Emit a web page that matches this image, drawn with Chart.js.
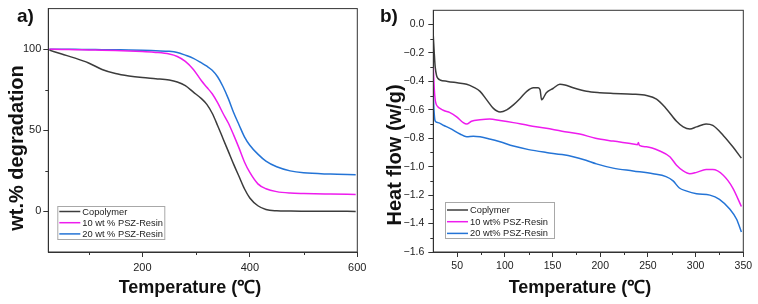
<!DOCTYPE html>
<html>
<head>
<meta charset="utf-8">
<script src="https://cdn.jsdelivr.net/npm/chart.js@4.4.0/dist/chart.umd.min.js"></script>
<style>
    html, body { margin: 0; padding: 0; background: #fff; }
    #wrap { position: relative; width: 758px; height: 304px; }
    canvas { position: absolute; top: 0; }
    #tga { left: 0; }
    #dsc { left: 379px; }
</style>
</head>
<body>
<div id="wrap">
    <canvas id="tga" width="379" height="304"></canvas>
    <canvas id="dsc" width="379" height="304"></canvas>
</div>
<script>
// ---- a) TGA data (read off the picture) ----
const tgaTemp = [27, 50, 75, 100, 125, 150, 175, 200, 225, 250, 265, 280, 295, 310, 320, 330, 340, 350, 360, 370, 380, 390, 400, 415, 430, 450, 475, 500, 550, 597];
const tgaCopolymer = [99.4, 97, 94.5, 91.5, 87.5, 85, 83.5, 82.5, 81.8, 81, 79.8, 77.5, 73.5, 69.5, 66, 60.5, 53, 45, 37, 29, 21.5, 14, 8.3, 3.5, 1.2, 0.4, 0.2, 0.1, 0.1, 0];
const tga10 = [100, 99.8, 99.7, 99.5, 99.4, 99.2, 98.9, 98.5, 98, 97, 95.5, 92.5, 87.5, 80.5, 76.5, 72.5, 67, 60.5, 54.5, 47, 39, 30.5, 24, 17, 14, 12.2, 11.3, 11, 10.7, 10.5];
const tga20 = [100, 100, 99.9, 99.8, 99.7, 99.6, 99.5, 99.3, 99, 98.7, 98, 96.3, 94.3, 91.5, 89.5, 87, 83, 77, 69.5, 60.8, 53.3, 46, 40.8, 35.3, 31, 27.5, 25, 23.8, 23, 22.6];
const tgaXTicks = [200, 400, 600];
const tgaXMinor = [100, 300, 500];
const tgaYTicks = [0, 50, 100];
const tgaYMinor = [25, 75];

// ---- b) DSC data ----
const dscTempCopolymer = [25, 26, 27, 28.5, 30, 32, 40, 50, 60, 67, 74, 81, 88, 95, 102, 109, 116, 123, 130, 135, 137, 138.5, 140, 143.5, 150.5, 157.7, 163, 171.6, 185.6, 199.5, 213.5, 234, 248.5, 259, 269, 280, 287, 294, 301, 311, 318, 329, 339, 348];
const dscCopolymer = [-0.08, -0.2, -0.3, -0.36, -0.38, -0.39, -0.4, -0.41, -0.42, -0.44, -0.47, -0.53, -0.59, -0.615, -0.6, -0.565, -0.52, -0.47, -0.445, -0.445, -0.46, -0.53, -0.52, -0.48, -0.45, -0.42, -0.425, -0.445, -0.47, -0.48, -0.485, -0.49, -0.5, -0.525, -0.59, -0.68, -0.72, -0.735, -0.72, -0.7, -0.71, -0.78, -0.86, -0.94];
const dscTemp10 = [25, 26, 27, 28, 30, 32, 36, 42.5, 49.5, 56.4, 60, 65, 74, 84, 95, 109, 125, 143.5, 160, 178.5, 195, 213.5, 234.5, 239, 240, 241, 248.5, 262.4, 273, 280, 287, 294, 301, 311, 318, 329, 339, 348];
const dsc10 = [-0.3, -0.45, -0.53, -0.56, -0.58, -0.59, -0.605, -0.62, -0.65, -0.69, -0.7, -0.68, -0.67, -0.665, -0.675, -0.69, -0.71, -0.73, -0.75, -0.77, -0.8, -0.82, -0.84, -0.845, -0.83, -0.85, -0.86, -0.89, -0.93, -0.99, -1.03, -1.05, -1.04, -1.02, -1.02, -1.06, -1.15, -1.28];
const dscTemp20 = [25, 26, 27, 30, 36, 42.5, 53, 60, 67, 74, 84, 95, 109, 125, 143.5, 160, 171.6, 185, 196, 213.5, 234.5, 255.4, 269, 276.4, 283, 290, 301, 315, 325, 336, 343, 348];
const dsc20 = [-0.5, -0.63, -0.68, -0.69, -0.71, -0.73, -0.77, -0.79, -0.785, -0.79, -0.805, -0.825, -0.855, -0.88, -0.9, -0.915, -0.93, -0.955, -0.98, -1.01, -1.03, -1.05, -1.07, -1.1, -1.15, -1.17, -1.19, -1.2, -1.23, -1.3, -1.37, -1.46];
const dscXTicks = [50, 100, 150, 200, 250, 300, 350];
const dscXMinor = [75, 125, 175, 225, 275, 325];
const dscYTicks = [0, -0.2, -0.4, -0.6, -0.8, -1.0, -1.2, -1.4, -1.6];
const dscYMinor = [-0.1, -0.3, -0.5, -0.7, -0.9, -1.1, -1.3, -1.5];

const BLACK = '#3c3c3c';
const MAGENTA = '#ee1cee';
const BLUE = '#2474d6';
const AXIS = '#333';
const FONT = '"Liberation Sans", Arial, sans-serif';

function toPoints(xs, ys) {
    return xs.map((x, i) => ({ x: x, y: ys[i] }));
}

function line(label, xs, ys, color) {
    return {
        label: label,
        data: toPoints(xs, ys),
        borderColor: color,
        borderWidth: 1.5,
        pointRadius: 0,
        fill: false,
        cubicInterpolationMode: 'monotone'
    };
}

// frame, minor ticks, axis titles, panel letter and boxed legend
const decorPlugin = {
    id: 'decor',
    afterDraw(chart, args, opts) {
        const { ctx, chartArea: a, scales } = chart;
        ctx.save();
        ctx.strokeStyle = AXIS;
        ctx.lineWidth = 1;
        ctx.strokeRect(a.left, a.top, a.right - a.left, a.bottom - a.top);

        ctx.beginPath();
        opts.minorX.forEach(v => {
            const x = Math.round(scales.x.getPixelForValue(v)) + 0.5;
            ctx.moveTo(x, a.bottom);
            ctx.lineTo(x, a.bottom + 3);
        });
        opts.minorY.forEach(v => {
            const y = Math.round(scales.y.getPixelForValue(v)) + 0.5;
            ctx.moveTo(a.left, y);
            ctx.lineTo(a.left - 3, y);
        });
        ctx.stroke();

        ctx.fillStyle = '#111';
        ctx.textAlign = 'center';
        ctx.textBaseline = 'alphabetic';
        ctx.font = `bold ${opts.xTitleSize}px ${FONT}`;
        ctx.fillText(opts.xTitle, opts.xTitlePos[0], opts.xTitlePos[1]);

        ctx.save();
        ctx.translate(opts.yTitlePos[0], opts.yTitlePos[1]);
        ctx.rotate(-Math.PI / 2);
        ctx.font = `bold ${opts.yTitleSize}px ${FONT}`;
        ctx.textBaseline = 'middle';
        ctx.fillText(opts.yTitle, 0, 0);
        ctx.restore();

        ctx.textAlign = 'left';
        ctx.font = `bold 19px ${FONT}`;
        ctx.fillText(opts.panel, opts.panelPos[0], opts.panelPos[1]);

        // legend
        const lg = opts.legend;
        const bx = a.left + lg.dx, by = a.bottom - lg.dy;
        ctx.fillStyle = '#fff';
        ctx.fillRect(bx, by, lg.w, lg.h);
        ctx.strokeStyle = '#a8a8a8';
        ctx.lineWidth = 1;
        ctx.strokeRect(bx + 0.5, by + 0.5, lg.w, lg.h);
        ctx.font = `9.3px ${FONT}`;
        ctx.textBaseline = 'middle';
        chart.data.datasets.forEach((ds, i) => {
            const y = by + lg.row0 + i * lg.rowGap;
            ctx.strokeStyle = ds.borderColor;
            ctx.lineWidth = 1.5;
            ctx.beginPath();
            ctx.moveTo(bx + 2, y);
            ctx.lineTo(bx + 2 + lg.lineLen, y);
            ctx.stroke();
            ctx.fillStyle = '#222';
            ctx.fillText(ds.label, bx + lg.lineLen + 4, y + 0.5);
        });
        ctx.restore();
    }
};

function axis(min, max, ticks, fmt, fitKey, fitVal, pad, size) {
    return {
        type: 'linear',
        min: min,
        max: max,
        afterBuildTicks: scale => { scale.ticks = ticks.map(v => ({ value: v })); },
        afterFit: scale => { scale[fitKey] = fitVal; },
        ticks: {
            autoSkip: false,
            maxRotation: 0,
            padding: pad,
            color: '#222',
            font: { family: FONT, size: size },
            callback: fmt
        },
        grid: { drawOnChartArea: false, drawTicks: true, tickLength: 5, color: AXIS },
        border: { display: true, color: AXIS, width: 1 }
    };
}

new Chart(document.getElementById('tga'), {
    type: 'line',
    data: {
        datasets: [
            line('Copolymer', tgaTemp, tgaCopolymer, BLACK),
            line('10 wt % PSZ-Resin', tgaTemp, tga10, MAGENTA),
            line('20 wt % PSZ-Resin', tgaTemp, tga20, BLUE)
        ]
    },
    options: {
        responsive: false,
        animation: false,
        layout: { padding: { left: 0, right: 21.7, top: 5, bottom: 0 } },
        plugins: {
            legend: { display: false },
            tooltip: { enabled: false },
            decor: {
                minorX: tgaXMinor,
                minorY: tgaYMinor,
                xTitle: 'Temperature (℃)',
                xTitleSize: 18,
                xTitlePos: [190, 293],
                yTitle: 'wt.% degradation',
                yTitleSize: 20,
                yTitlePos: [17, 148],
                panel: 'a)',
                panelPos: [17, 22],
                legend: { dx: 9, dy: 46, w: 107, h: 33, row0: 5.5, rowGap: 11.2, lineLen: 21 }
            }
        },
        scales: {
            x: axis(25, 600, tgaXTicks, v => String(v), 'height', 52, 4, 11),
            y: axis(-25, 125, tgaYTicks, v => String(v), 'width', 48.3, 2, 11)
        }
    },
    plugins: [decorPlugin]
});

new Chart(document.getElementById('dsc'), {
    type: 'line',
    data: {
        datasets: [
            line('Coplymer', dscTempCopolymer, dscCopolymer, BLACK),
            line('10 wt% PSZ-Resin', dscTemp10, dsc10, MAGENTA),
            line('20 wt% PSZ-Resin', dscTemp20, dsc20, BLUE)
        ]
    },
    options: {
        responsive: false,
        animation: false,
        layout: { padding: { left: 0, right: 14.7, top: 3.5, bottom: 0 } },
        plugins: {
            legend: { display: false },
            tooltip: { enabled: false },
            decor: {
                minorX: dscXMinor,
                minorY: dscYMinor,
                xTitle: 'Temperature (℃)',
                xTitleSize: 18,
                xTitlePos: [201, 293],
                yTitle: 'Heat flow (w/g)',
                yTitleSize: 20,
                yTitlePos: [16, 155],
                panel: 'b)',
                panelPos: [1, 22],
                legend: { dx: 11.7, dy: 50, w: 109, h: 36, row0: 8, rowGap: 11.7, lineLen: 21 }
            }
        },
        scales: {
            x: axis(25, 350, dscXTicks, v => String(v), 'height', 52, 3, 10.5),
            y: axis(-1.6, 0.1, dscYTicks, v => v.toFixed(1).replace('-', '−'), 'width', 54.3, 4, 10.5)
        }
    },
    plugins: [decorPlugin]
});
</script>
</body>
</html>
